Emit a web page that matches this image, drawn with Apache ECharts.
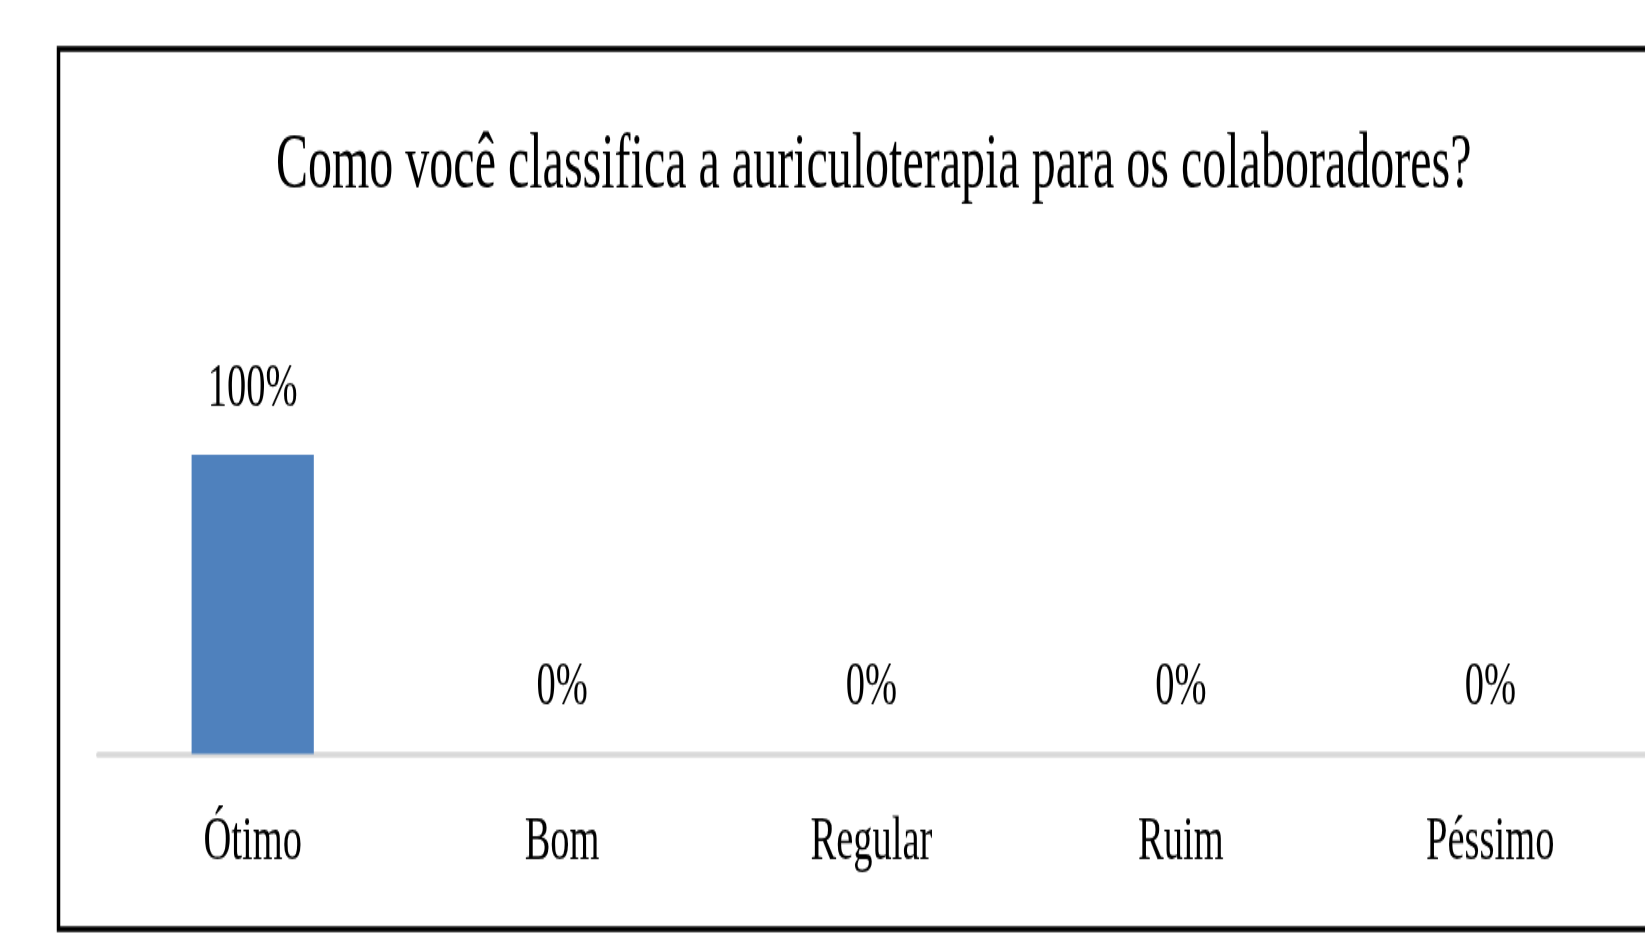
<!DOCTYPE html>
<html>
<head>
<meta charset="utf-8">
<script src="https://cdn.jsdelivr.net/npm/echarts@6/dist/echarts.min.js"></script>
<style>
  html, body { margin: 0; padding: 0; background: #fff; width: 1645px; height: 936px; }
  /* the source picture is an Excel chart stretched vertically, so draw it flat and stretch it */
  #chart { width: 1645px; height: 574px; transform: scaleY(1.63); transform-origin: 0 0; }
</style>
</head>
<body>
<div id="chart"></div>
<script>
const titleText = 'Como você classifica a auriculoterapia para os colaboradores?';
const categories = ['Ótimo', 'Bom', 'Regular', 'Ruim', 'Péssimo'];
const percentages = [100, 0, 0, 0, 0];

const FONT = '"Liberation Serif", "DejaVu Serif", serif';

let chart = echarts.init(document.getElementById('chart'));
let option = {
    backgroundColor: '#fff',
    animation: false,
    title: {
        text: titleText,
        left: 271,
        top: 73,
        textStyle: { fontFamily: FONT, fontSize: 48, fontWeight: 'normal', color: '#000' }
    },
    graphic: [{
        // chart frame (right edge runs off the picture)
        type: 'rect',
        shape: { x: 58.5, y: 30.1, width: 1700, height: 540 },
        style: { fill: null, stroke: '#000', lineWidth: 3.5 },
        silent: true
    }],
    grid: { left: 98, right: 0, top: 279.1, bottom: 111.4 },
    xAxis: {
        type: 'category',
        data: categories,
        axisLine: { lineStyle: { color: '#d9d9d9', width: 3.7 } },
        axisTick: { show: false },
        axisLabel: { margin: 34.5, fontFamily: FONT, fontSize: 38.5, color: '#000' }
    },
    yAxis: {
        type: 'value',
        min: 0,
        max: 100,
        show: false,
        splitLine: { show: false }
    },
    series: [{
        type: 'bar',
        data: percentages,
        barWidth: '39.5%',
        itemStyle: { color: '#4f81bd' },
        label: {
            show: true,
            position: 'top',
            distance: 21,
            formatter: (p) => p.value + '%',
            fontFamily: FONT,
            fontSize: 38.5,
            color: '#000'
        }
    }]
};
chart.setOption(option);
</script>
</body>
</html>
